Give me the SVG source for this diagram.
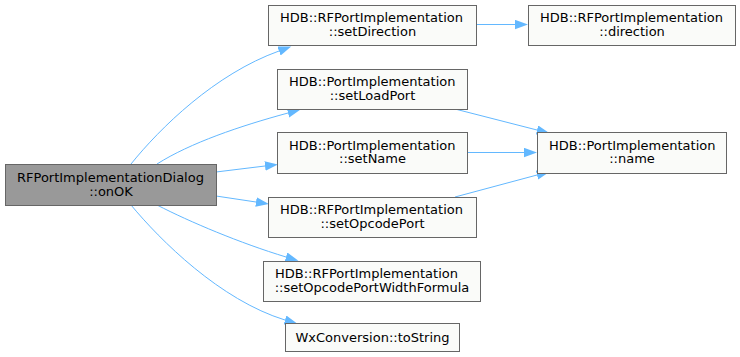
<svg xmlns="http://www.w3.org/2000/svg" width="740" height="357" viewBox="0 0 740 357">
  <style>
    .node rect { fill: #fafbf9; stroke: #666666; stroke-width: 1; }
    .node.root rect { fill: #999999; }
    text { font-family: "DejaVu Sans", "Noto Sans", sans-serif; font-size: 13px; fill: #000000; }
    .l1 { text-anchor: start; }
    .l2 { text-anchor: middle; }
    .edge { fill: none; stroke: #63b8ff; stroke-width: 1; }
  </style>
  <defs>
    <marker id="arrow" markerUnits="userSpaceOnUse" markerWidth="14" markerHeight="10" refX="0" refY="4.7" orient="auto">
      <path d="M0,0 L13,4.7 L0,9.4 Z" fill="#63b8ff" stroke="none"/>
    </marker>
  </defs>

  <!-- call edges -->
  <g id="edges">
    <path class="edge" marker-end="url(#arrow)" d="M131,164 C160,128 215,74 279,51"/>
    <path class="edge" marker-end="url(#arrow)" d="M157,164 C190,143 240,126 288,113"/>
    <path class="edge" marker-end="url(#arrow)" d="M216,172 L265,166"/>
    <path class="edge" marker-end="url(#arrow)" d="M216,196 L256,202"/>
    <path class="edge" marker-end="url(#arrow)" d="M157,205 C190,222 240,243 286,257"/>
    <path class="edge" marker-end="url(#arrow)" d="M131,205 C160,240 220,300 285,320"/>
    <path class="edge" marker-end="url(#arrow)" d="M476,24.5 L515,24.5"/>
    <path class="edge" marker-end="url(#arrow)" d="M455,109 L537,130"/>
    <path class="edge" marker-end="url(#arrow)" d="M467,152.5 L524,152.5"/>
    <path class="edge" marker-end="url(#arrow)" d="M455,197 L537,175"/>
  </g>

  <g id="node-onOK" class="node root">
    <rect x="5.5" y="164.5" width="211" height="41"/>
    <text class="l1" x="17" y="181.5">RFPortImplementationDialog</text>
    <text class="l2" x="111" y="195.5">::onOK</text>
  </g>

  <g id="node-setDirection" class="node">
    <rect x="268.5" y="5.5" width="208" height="40"/>
    <text class="l1" x="280" y="22">HDB::RFPortImplementation</text>
    <text class="l2" x="372.5" y="36">::setDirection</text>
  </g>

  <g id="node-direction" class="node">
    <rect x="528.5" y="5.5" width="207" height="40"/>
    <text class="l1" x="540" y="22">HDB::RFPortImplementation</text>
    <text class="l2" x="632" y="36">::direction</text>
  </g>

  <g id="node-setLoadPort" class="node">
    <rect x="277.5" y="69.5" width="190" height="40"/>
    <text class="l1" x="289" y="86">HDB::PortImplementation</text>
    <text class="l2" x="372.5" y="100">::setLoadPort</text>
  </g>

  <g id="node-setName" class="node">
    <rect x="277.5" y="132.5" width="190" height="41"/>
    <text class="l1" x="289" y="149.5">HDB::PortImplementation</text>
    <text class="l2" x="372.5" y="163">::setName</text>
  </g>

  <g id="node-name" class="node">
    <rect x="537.5" y="132.5" width="189" height="41"/>
    <text class="l1" x="549" y="149.5">HDB::PortImplementation</text>
    <text class="l2" x="632" y="163">::name</text>
  </g>

  <g id="node-setOpcodePort" class="node">
    <rect x="268.5" y="197.5" width="208" height="40"/>
    <text class="l1" x="280" y="214">HDB::RFPortImplementation</text>
    <text class="l2" x="372.5" y="228">::setOpcodePort</text>
  </g>

  <g id="node-setOpcodePortWidthFormula" class="node">
    <rect x="263.5" y="261.5" width="217" height="40"/>
    <text class="l1" x="275" y="278">HDB::RFPortImplementation</text>
    <text class="l2" x="372" y="292">::setOpcodePortWidthFormula</text>
  </g>

  <g id="node-toString" class="node">
    <rect x="285.5" y="323.5" width="174" height="28"/>
    <text class="l2" x="372.5" y="342">WxConversion::toString</text>
  </g>
</svg>
